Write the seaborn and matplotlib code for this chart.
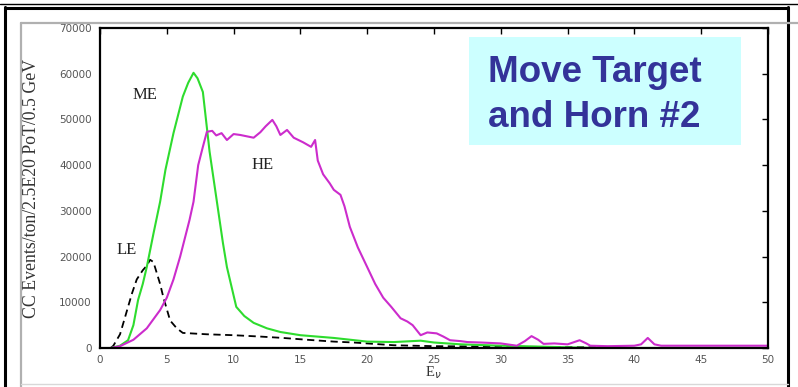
import numpy as np
import pandas as pd
import matplotlib
matplotlib.use("Agg")
import matplotlib.pyplot as plt
from matplotlib.lines import Line2D
from matplotlib.patches import Rectangle
import seaborn as sns

# Neutrino energy spectra (E in GeV, CC events per bin)
le_energy = [0.8, 1.0, 1.5, 2.0, 2.4, 2.75, 3.2, 3.5, 3.75, 4.0, 4.25, 4.5, 4.75, 5.0, 5.25,
             5.75, 6.2, 8.0, 10.0, 12.0, 13.7, 15.5, 17.5, 19.0, 20.0, 22.0, 25.0, 30.0,
             35.0, 38.0, 40.0, 50.0]
le_events = [0, 500, 3000, 8000, 12000, 15000, 17000, 18000, 19300, 18800, 16400, 14000,
             11000, 8500, 6000, 4300, 3300, 3000, 2800, 2500, 2200, 1800, 1400, 1200, 1000,
             600, 400, 300, 200, 100, 0, 0]

me_energy = [0.8, 1.5, 2.1, 2.5, 2.85, 3.2, 3.5, 4.0, 4.5, 4.9, 5.5, 6.2, 6.6, 7.0, 7.3, 7.7,
             8.2, 8.6, 8.9, 9.2, 9.5, 10.2, 10.8, 11.5, 12.5, 13.5, 15.0, 17.5, 20.0, 22.0,
             24.0, 25.0, 27.0, 30.0, 33.0, 37.0, 50.0]
me_events = [0, 500, 1700, 5000, 10500, 14000, 17700, 25000, 32000, 39000, 47000, 55000,
             58000, 60200, 59000, 56000, 43000, 35000, 29000, 23000, 17700, 9000, 7000, 5500,
             4300, 3500, 2800, 2200, 1400, 1300, 1600, 1200, 800, 500, 300, 0, 0]

he_energy = [0.8, 1.5, 2.5, 3.5, 4.5, 5.0, 5.5, 6.0, 6.7, 7.0, 7.35, 7.7, 8.0, 8.4, 8.7, 9.1,
             9.5, 10.0, 10.5, 11.0, 11.5, 12.0, 12.4, 12.9, 13.2, 13.5, 14.0, 14.5, 15.2,
             15.8, 16.1, 16.3, 16.7, 17.2, 17.5, 18.0, 18.3, 18.7, 19.3, 20.0, 20.6, 21.2,
             21.8, 22.5, 23.0, 23.4, 24.0, 24.5, 25.2, 25.7, 26.2, 27.0, 27.5, 28.5, 30.0,
             31.2, 31.8, 32.3, 32.8, 33.2, 34.0, 35.0, 35.9, 36.4, 36.7, 38.0, 40.0, 40.5,
             41.0, 41.5, 42.0, 50.0]
he_events = [0, 400, 1800, 4300, 8300, 11000, 15000, 20000, 28000, 32000, 40000, 44000,
             47300, 47500, 46500, 47000, 45500, 46800, 46600, 46300, 46000, 47200, 48500,
             49900, 48500, 46600, 47700, 46000, 45000, 44000, 45500, 41000, 38000, 36000,
             34600, 33500, 31000, 26500, 22000, 17700, 14000, 11000, 9000, 6500, 5800, 5000,
             2800, 3400, 3200, 2500, 1700, 1500, 1300, 1200, 1000, 500, 1500, 2600, 1800, 900,
             1000, 800, 1700, 1000, 500, 400, 500, 800, 2200, 800, 500, 500]

x_ticks = [0, 5, 10, 15, 20, 25, 30, 35, 40, 45, 50]
y_ticks = [0, 10000, 20000, 30000, 40000, 50000, 60000, 70000]

sns.set_style("white")
plt.rcParams["font.family"] = ["Liberation Serif", "DejaVu Serif"]

W, H = 798, 387
fig = plt.figure(figsize=(W / 100, H / 100), dpi=100)

# Page-style frame drawn in pixel coordinates on a background layer
bg = fig.add_axes([0, 0, 1, 1])
bg.set_xlim(0, W)
bg.set_ylim(H, 0)
bg.axis("off")
bg.add_line(Line2D([0, W], [4, 4], color="black", lw=1.0))
bg.add_line(Line2D([5, 5], [7, H], color="black", lw=2.2))
bg.add_line(Line2D([5, 788], [7.5, 7.5], color="black", lw=2.2))
bg.add_line(Line2D([788, 788], [7, H], color="black", lw=2.2))
bg.add_line(Line2D([21, 21], [23, H], color="#b0b0b0", lw=1.6))
bg.add_line(Line2D([21, W], [23, 23], color="#b0b0b0", lw=1.6))
bg.add_line(Line2D([21, 788], [384, 384], color="#d8d8d8", lw=1.0))

ax = fig.add_axes([100 / W, 1 - 348 / H, 668 / W, 320 / H], zorder=1)
ax.patch.set_alpha(0)

sns.lineplot(x=le_energy, y=le_events, ax=ax, color="black", lw=1.3,
             linestyle=(0, (4, 2.5)), estimator=None, sort=False)
sns.lineplot(x=me_energy, y=me_events, ax=ax, color="#2edc2e", lw=1.5,
             estimator=None, sort=False)
sns.lineplot(x=he_energy, y=he_events, ax=ax, color="#cc2ccc", lw=1.5,
             estimator=None, sort=False)

ax.set_xlim(0, 50)
ax.set_ylim(0, 70000)
ax.set_xticks(x_ticks)
ax.set_yticks(y_ticks)
tick_font = dict(fontsize=7.5, color="#555555", family=["DejaVu Sans"])
ax.set_xticklabels([str(t) for t in x_ticks], **tick_font)
ax.set_yticklabels([str(t) for t in y_ticks], **tick_font)
ax.tick_params(axis="both", direction="in", length=4, width=1, top=True, right=True,
               labeltop=False, labelright=False, color="black")
ax.tick_params(axis="y", pad=6)
ax.tick_params(axis="x", pad=5)
for s in ax.spines.values():
    s.set_color("black")
    s.set_linewidth(1.6)

ax.set_xlabel(r"E$_\nu$", fontsize=10.5, labelpad=0, color="#333333")
ax.xaxis.set_label_coords((433 - 100) / 668, -(364 - 348) / 320)
ax.set_ylabel("CC Events/ton/2.5E20 PoT/0.5 GeV", fontsize=12.8, color="#333333")
ax.yaxis.set_label_coords(-(100 - 40) / 668, 0.5)

ax.text(3.35, 55300, "ME", fontsize=12, ha="center", va="center", color="#222222")
ax.text(12.2, 40000, "HE", fontsize=12, ha="center", va="center", color="#222222")
ax.text(2.0, 21400, "LE", fontsize=12, ha="center", va="center", color="#222222")

# Caption box
bg.add_patch(Rectangle((469, 37), 272, 108, facecolor="#ccffff", edgecolor="none", zorder=2))
bg.text(488, 82, "Move Target", fontsize=26.5, fontweight="bold", color="#333399",
        family=["Liberation Sans", "DejaVu Sans"], va="baseline", ha="left", zorder=3)
bg.text(488, 127, "and Horn #2", fontsize=26.5, fontweight="bold", color="#333399",
        family=["Liberation Sans", "DejaVu Sans"], va="baseline", ha="left", zorder=3)
bg.set_zorder(2)
bg.patch.set_alpha(0)

fig.savefig("out.png", dpi=100)
